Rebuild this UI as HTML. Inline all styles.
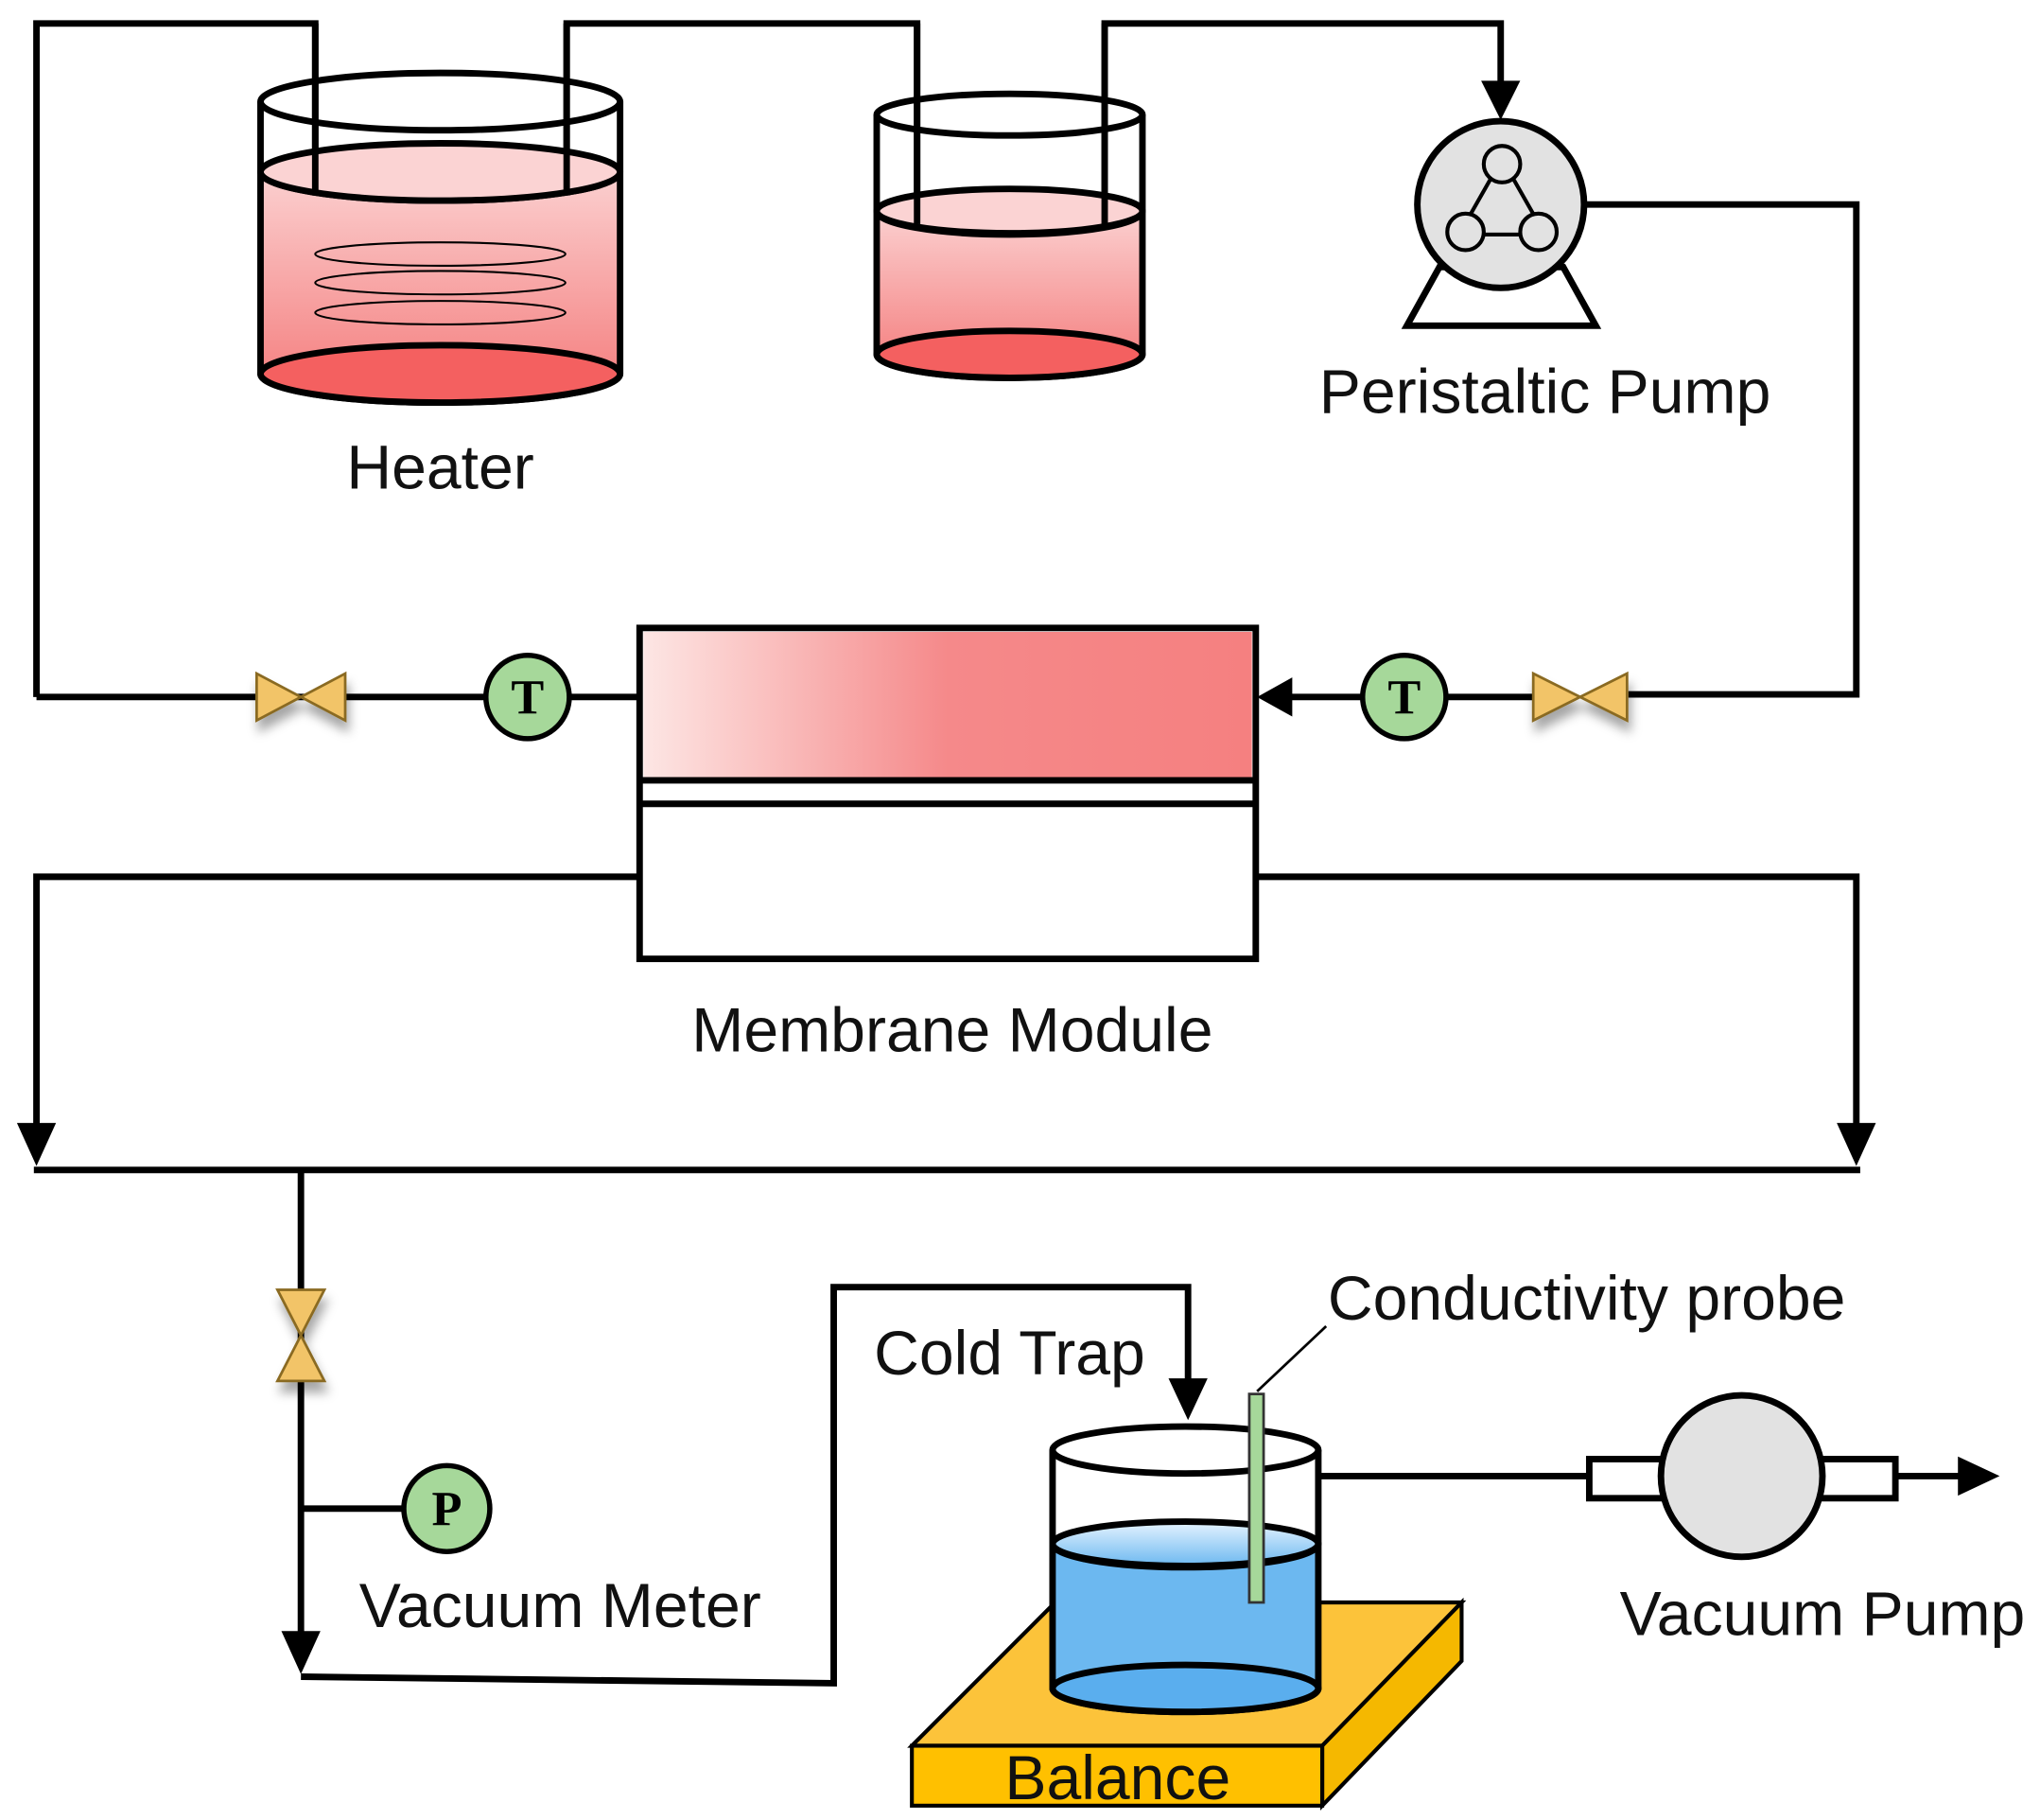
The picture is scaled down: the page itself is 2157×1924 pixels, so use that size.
<!DOCTYPE html>
<html><head><style>html,body{margin:0;padding:0;background:#fff}svg{display:block}</style></head><body>
<svg width="2157" height="1924" viewBox="0 0 1566 1397" preserveAspectRatio="none" xmlns="http://www.w3.org/2000/svg" font-family="Liberation Sans, sans-serif">
<defs>
<linearGradient id="mg" x1="0" x2="1" y1="0" y2="0"><stop offset="0" stop-color="#fde6e4"/><stop offset="0.5" stop-color="#f5898a"/><stop offset="1" stop-color="#f58080"/></linearGradient>
<linearGradient id="lg" x1="0" x2="0" y1="0" y2="1"><stop offset="0" stop-color="#fbd0d0"/><stop offset="1" stop-color="#f47a7a"/></linearGradient>
<linearGradient id="bg" x1="0" x2="0" y1="0" y2="1"><stop offset="0" stop-color="#e6f4ff"/><stop offset="1" stop-color="#6cb8f0"/></linearGradient>
<filter id="sh"><feDropShadow dx="2" dy="8" stdDeviation="4" flood-color="#000" flood-opacity="0.35"/></filter>
</defs>
<g fill="none" stroke="#000" stroke-width="5">
<polyline points="28,535 28,18 242,18 242,150"/>
<polyline points="435,150 435,18 704,18 704,172"/>
<polyline points="848,172 848,18 1152,18 1152,70"/>
<polyline points="1215,157 1425,157 1425,533 1250,533"/>
<line x1="28" y1="535" x2="491" y2="535"/>
<line x1="1200" y1="535" x2="990" y2="535"/>
<polyline points="491,673 28,673 28,870"/>
<polyline points="964,673 1425,673 1425,870"/>
<line x1="26" y1="898" x2="1428" y2="898"/>
<line x1="231" y1="898" x2="231" y2="1262"/>
<line x1="231" y1="1158" x2="312" y2="1158"/>
<polyline points="231,1287 640,1292 640,988 912,988 912,1065"/>
<line x1="1012" y1="1133" x2="1220" y2="1133"/>
<line x1="1455" y1="1133" x2="1510" y2="1133"/>
</g>
<g fill="#000">
<polygon points="1137,62 1167,62 1152,92"/>
<polygon points="992,520 992,550 965,535"/>
<polygon points="13,862 43,862 28,895"/>
<polygon points="1410,862 1440,862 1425,895"/>
<polygon points="216,1252 246,1252 231,1285"/>
<polygon points="897,1058 927,1058 912,1090"/>
<polygon points="1503,1118 1503,1148 1535,1133"/>
</g>
<g stroke="#000" stroke-width="5">
<path d="M200,132 L200,287 A138,22 0 0 0 476,287 L476,132 A138,22 0 0 1 200,132 Z" fill="url(#lg)"/>
<ellipse cx="338" cy="132" rx="138" ry="22" fill="#fbd3d3"/>
<ellipse cx="338" cy="287" rx="138" ry="22" fill="#f46060"/>
<path d="M200,78 L200,132 M476,78 L476,132" fill="none"/>
<ellipse cx="338" cy="78" rx="138" ry="22" fill="none"/>
</g>
<line x1="242" y1="18" x2="242" y2="150" stroke="#000" stroke-width="5"/>
<line x1="435" y1="18" x2="435" y2="150" stroke="#000" stroke-width="5"/>
<g fill="none" stroke="#000" stroke-width="1.5">
<ellipse cx="338" cy="195" rx="96" ry="9"/><ellipse cx="338" cy="217" rx="96" ry="9"/><ellipse cx="338" cy="240" rx="96" ry="9"/>
</g>
<g stroke="#000" stroke-width="5">
<path d="M673,162 L673,272 A102,18 0 0 0 877,272 L877,162 A102,18 0 0 1 673,162 Z" fill="url(#lg)"/>
<ellipse cx="775" cy="162" rx="102" ry="17" fill="#fbd3d3"/>
<ellipse cx="775" cy="272" rx="102" ry="18" fill="#f46060"/>
<path d="M673,88 L673,162 M877,88 L877,162" fill="none"/>
<ellipse cx="775" cy="88" rx="102" ry="16" fill="none"/>
</g>
<line x1="704" y1="18" x2="704" y2="172" stroke="#000" stroke-width="5"/>
<line x1="848" y1="18" x2="848" y2="172" stroke="#000" stroke-width="5"/>
<g stroke="#000" stroke-width="5">
<polygon points="1105,205 1080,250 1225,250 1200,205" fill="#fff"/>
<circle cx="1152" cy="157" r="64" fill="#e2e2e2"/>
<polygon points="1153,122 1120,180 1186,180" fill="none" stroke-width="3"/>
<g stroke-width="3" fill="#e2e2e2"><circle cx="1153" cy="126" r="14"/><circle cx="1125" cy="178" r="14"/><circle cx="1181" cy="178" r="14"/></g>
</g>
<rect x="491" y="482" width="473" height="254" fill="#fff" stroke="#000" stroke-width="5"/>
<rect x="494" y="485" width="467" height="113" fill="url(#mg)"/>
<line x1="491" y1="599" x2="964" y2="599" stroke="#000" stroke-width="5"/>
<line x1="491" y1="617" x2="964" y2="617" stroke="#000" stroke-width="5"/>
<g fill="#f2c467" stroke="#8a6a20" stroke-width="2" filter="url(#sh)">
<polygon points="197,517 197,553 265,517 265,553"/>
<polygon points="1177,517 1177,553 1249,517 1249,553"/>
<polygon points="213,990 249,990 213,1060 249,1060"/>
</g>
<g fill="#a6d89a" stroke="#000" stroke-width="4">
<circle cx="405" cy="535" r="32"/><circle cx="1078" cy="535" r="32"/><circle cx="343" cy="1158" r="33"/>
</g>
<g font-family="Liberation Serif, serif" font-weight="bold" font-size="38" text-anchor="middle">
<text x="405" y="548">T</text><text x="1078" y="548">T</text><text x="343" y="1171">P</text>
</g>
<g stroke="#000" stroke-width="3">
<polygon points="700,1340 810,1230 1122,1230 1015,1340" fill="#fcc33a"/>
<polygon points="1015,1340 1122,1230 1122,1275 1015,1386" fill="#f5b800"/>
<rect x="700" y="1340" width="315" height="46" fill="#ffc000"/>
</g>
<g stroke="#000" stroke-width="5">
<path d="M808,1185 L808,1296 A102,18 0 0 0 1012,1296 L1012,1185 A102,18 0 0 1 808,1185 Z" fill="#6cb8f0"/>
<ellipse cx="910" cy="1185" rx="102" ry="17" fill="url(#bg)"/>
<ellipse cx="910" cy="1296" rx="102" ry="18" fill="#5aaeee"/>
<path d="M808,1113 L808,1185 M1012,1113 L1012,1185" fill="none"/>
<ellipse cx="910" cy="1113" rx="102" ry="18" fill="none"/>
</g>
<rect x="959" y="1070" width="11" height="160" fill="#a6d89a" stroke="#333" stroke-width="2"/>
<line x1="1018" y1="1018" x2="965" y2="1068" stroke="#000" stroke-width="2"/>
<g stroke="#000" stroke-width="5">
<rect x="1220" y="1120" width="58" height="30" fill="#fff"/>
<rect x="1397" y="1120" width="58" height="30" fill="#fff"/>
<circle cx="1337" cy="1133" r="62" fill="#e2e2e2"/>
</g>
<g font-size="48" fill="#111" text-anchor="middle">
<text x="338" y="375">Heater</text>
<text x="1186" y="317">Peristaltic Pump</text>
<text x="731" y="807">Membrane Module</text>
<text x="775" y="1055">Cold Trap</text>
<text x="1218" y="1013">Conductivity probe</text>
<text x="430" y="1249">Vacuum Meter</text>
<text x="1399" y="1255">Vacuum Pump</text>
<text x="858" y="1381">Balance</text>
</g>
</svg>
</body></html>
